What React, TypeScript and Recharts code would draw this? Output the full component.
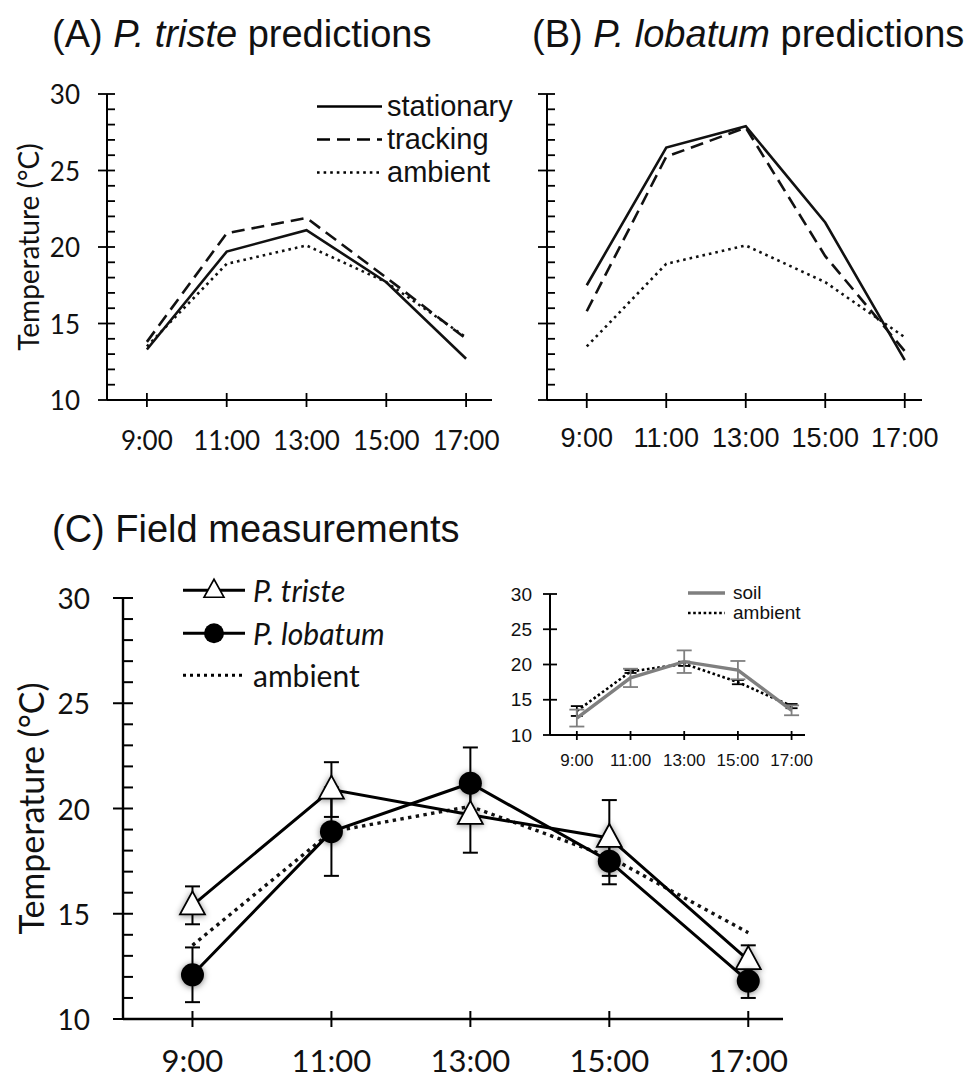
import React from "react";
import { LineChart, Line, XAxis, YAxis, ErrorBar, Legend } from "recharts";

// hours on the x axis and their labels
const times = [9, 11, 13, 15, 17];
const timeLabels = ["9:00", "11:00", "13:00", "15:00", "17:00"];
const yTicksAll = [10, 11, 12, 13, 14, 15, 16, 17, 18, 19, 20, 21, 22, 23, 24, 25, 26, 27, 28, 29, 30];
const yTicksMajor = [10, 15, 20, 25, 30];

// panel A / B model predictions (°C)
const ambient = [13.5, 18.9, 20.1, 17.7, 14.1];
const tristeStationary = [13.3, 19.7, 21.1, 17.7, 12.7];
const tristeTracking = [13.8, 20.9, 21.9, 18.0, 14.0];
const lobatumStationary = [17.5, 26.5, 27.9, 21.6, 12.6];
const lobatumTracking = [15.8, 25.9, 27.8, 19.4, 13.2];

// panel C field measurements (mean, ± error)
const fieldTriste = [15.4, 20.9, 19.7, 18.6, 12.8];
const fieldTristeErr = [0.9, 1.3, 1.8, 1.8, 0.7];
const fieldLobatum = [12.1, 18.9, 21.2, 17.5, 11.8];
const fieldLobatumErr = [1.3, 2.1, 1.7, 1.1, 0.8];

// inset: soil vs ambient
const soil = [12.4, 18.1, 20.4, 19.2, 13.5];
const soilErr = [1.2, 1.3, 1.6, 1.3, 0.7];
const insetAmbient = [13.4, 19.0, 20.1, 17.5, 14.1];
const insetAmbientErr = [0.7, 0.2, 0.3, 0.3, 0.3];

const dataA = times.map((t, i) => ({ t, stationary: tristeStationary[i], tracking: tristeTracking[i], ambient: ambient[i] }));
const dataB = times.map((t, i) => ({ t, stationary: lobatumStationary[i], tracking: lobatumTracking[i], ambient: ambient[i] }));
const dataC = times.map((t, i) => ({
  t,
  triste: fieldTriste[i],
  tristeErr: fieldTristeErr[i],
  lobatum: fieldLobatum[i],
  lobatumErr: fieldLobatumErr[i],
  ambient: ambient[i],
}));
const dataInset = times.map((t, i) => ({ t, soil: soil[i], soilErr: soilErr[i], ambient: insetAmbient[i], ambientErr: insetAmbientErr[i] }));

const ARIAL = '"Liberation Sans", Arial, sans-serif';
const LATO = 'Lato, "Open Sans", sans-serif';

type YTickOpts = { out: number; inn: number; minor: number; gap: number; size: number; font: string; labels: boolean; sw: number; minors: boolean };

const makeYTick = (o: YTickOpts) => (p: any) => {
  const v = p.payload.value;
  const major = yTicksMajor.includes(v);
  if (!major && !o.minors) return <g key={p.index} />;
  return (
    <g key={p.index}>
      <line x1={p.x - (major ? o.out : 0)} x2={p.x + (major ? o.inn : o.minor)} y1={p.y} y2={p.y} stroke="#000" strokeWidth={o.sw} />
      {major && o.labels && (
        <text x={p.x - o.gap} y={p.y} textAnchor="end" dominantBaseline="central" fontSize={o.size} fontFamily={o.font} fill="#111">
          {v}
        </text>
      )}
    </g>
  );
};

type XTickOpts = { up: number; down: number; dist: number; size: number; font: string; sw: number };

const makeXTick = (o: XTickOpts) => (p: any) => {
  const v = p.payload.value;
  return (
    <g key={p.index}>
      <line x1={p.x} x2={p.x} y1={p.y - o.up} y2={p.y + o.down} stroke="#000" strokeWidth={o.sw} />
      <text x={p.x} y={p.y + o.dist} textAnchor="middle" dominantBaseline="central" fontSize={o.size} fontFamily={o.font} fill="#111">
        {timeLabels[times.indexOf(v)]}
      </text>
    </g>
  );
};

const makeYLabel = (dist: number, size: number) => (props: any) => {
  const vb = props.viewBox;
  const cx = vb.x + vb.width - dist;
  const cy = vb.y + vb.height / 2;
  return (
    <text x={cx} y={cy} transform={`rotate(-90 ${cx} ${cy})`} textAnchor="middle" dominantBaseline="central" fontSize={size} fontFamily={LATO} fill="#111">
      Temperature (°C)
    </text>
  );
};

const Triangle = (p: any) => {
  if (p.cx == null || p.cy == null) return null;
  const { cx, cy } = p;
  return (
    <polygon
      key={`tri-${p.index}`}
      points={`${cx},${cy - 14} ${cx + 12.5},${cy + 9} ${cx - 12.5},${cy + 9}`}
      fill="#fff"
      stroke="#000"
      strokeWidth={1.8}
      style={{ filter: "drop-shadow(0px 1px 3px rgba(0,0,0,0.45))" }}
    />
  );
};

const Circle = (p: any) => {
  if (p.cx == null || p.cy == null) return null;
  return (
    <circle
      key={`circ-${p.index}`}
      cx={p.cx}
      cy={p.cy}
      r={11.5}
      fill="#000"
      style={{ filter: "drop-shadow(0px 1px 3px rgba(0,0,0,0.5))" }}
    />
  );
};

type LegendItem = { label: React.ReactNode; dash?: string; stroke?: string; sw: number; marker?: "tri" | "circ" };

const LegendRows = ({ items, rowH, sample, gap, size, font, italic }: { items: LegendItem[]; rowH: number; sample: number; gap: number; size: number; font: string; italic?: boolean[] }) => (
  <div style={{ fontFamily: font, fontSize: size, color: "#111" }}>
    {items.map((it, i) => (
      <div key={i} style={{ display: "flex", alignItems: "center", height: rowH, lineHeight: `${rowH}px`, whiteSpace: "nowrap" }}>
        <svg width={sample} height={rowH} style={{ display: "block", marginRight: gap }}>
          <line x1={0} x2={sample} y1={rowH / 2} y2={rowH / 2} stroke={it.stroke || "#000"} strokeWidth={it.sw} strokeDasharray={it.dash} />
          {it.marker === "tri" && (
            <polygon
              points={`${sample / 2},${rowH / 2 - 11} ${sample / 2 + 10},${rowH / 2 + 7} ${sample / 2 - 10},${rowH / 2 + 7}`}
              fill="#fff"
              stroke="#000"
              strokeWidth={1.6}
            />
          )}
          {it.marker === "circ" && <circle cx={sample / 2} cy={rowH / 2} r={10} fill="#000" />}
        </svg>
        <span style={{ fontStyle: italic && italic[i] ? "italic" : "normal" }}>{it.label}</span>
      </div>
    ))}
  </div>
);

const axisLine = (w: number) => ({ stroke: "#000", strokeWidth: w });

const PredictionPanel = ({ data, left, width, plotLeft, plotRight, showY, legend }: any) => (
  <div style={{ position: "absolute", left, top: 0 }}>
    <LineChart width={width} height={470} data={data} margin={{ top: 94, left: plotLeft - left - (showY ? 60 : 20), right: left + width - plotRight, bottom: 20 }}>
      <XAxis
        dataKey="t"
        type="number"
        domain={[8, 8 + ((plotRight - plotLeft) / (showY ? 39.9 : 39.75))]}
        ticks={times}
        interval={0}
        tickSize={0}
        tickMargin={0}
        tickLine={false}
        axisLine={axisLine(2)}
        height={50}
        allowDataOverflow
        tick={makeXTick(showY ? { up: 7, down: 7, dist: 40, size: 26, font: LATO, sw: 1.8 } : { up: 7, down: 8, dist: 38, size: 27, font: ARIAL, sw: 1.8 })}
      />
      <YAxis
        type="number"
        domain={[10, 30]}
        ticks={yTicksAll}
        interval={0}
        tickSize={0}
        tickMargin={0}
        tickLine={false}
        axisLine={axisLine(2)}
        width={showY ? 60 : 20}
        allowDataOverflow
        tick={makeYTick({ out: 9, inn: 8, minor: 8, gap: 27, size: 26, font: LATO, labels: showY, sw: 1.8, minors: true })}
        label={showY ? makeYLabel(79, 28) : undefined}
      />
      <Line dataKey="ambient" type="linear" stroke="#111" strokeWidth={2.6} strokeDasharray="2.6 4" dot={false} activeDot={false} isAnimationActive={false} />
      <Line dataKey="tracking" type="linear" stroke="#111" strokeWidth={2.6} strokeDasharray="13 7" dot={false} activeDot={false} isAnimationActive={false} />
      <Line dataKey="stationary" type="linear" stroke="#111" strokeWidth={2.6} dot={false} activeDot={false} isAnimationActive={false} />
      {legend && (
        <Legend
          layout="vertical"
          verticalAlign="middle"
          align="center"
          wrapperStyle={{ left: 317, top: 90 }}
          content={() => (
            <LegendRows
              rowH={33}
              sample={65}
              gap={5}
              size={29}
              font={ARIAL}
              items={[
                { label: "stationary", sw: 2.6 },
                { label: "tracking", sw: 2.6, dash: "13 7" },
                { label: "ambient", sw: 2.6, dash: "2.6 4" },
              ]}
            />
          )}
        />
      )}
    </LineChart>
  </div>
);

export default function App() {
  return (
    <div style={{ position: "absolute", left: 0, top: 0, width: 978, height: 1078, background: "#fff", fontFamily: ARIAL, overflow: "hidden" }}>
      <div style={{ position: "absolute", left: 52, top: 15, fontSize: 38, lineHeight: "38px", whiteSpace: "nowrap", color: "#111" }}>
        (A) <i>P. triste</i> predictions
      </div>
      <div style={{ position: "absolute", left: 532, top: 15, fontSize: 38, lineHeight: "38px", whiteSpace: "nowrap", color: "#111" }}>
        (B) <i>P. lobatum</i> predictions
      </div>
      <div style={{ position: "absolute", left: 52, top: 510, fontSize: 38, lineHeight: "38px", whiteSpace: "nowrap", color: "#111" }}>
        (C) Field measurements
      </div>

      <PredictionPanel data={dataA} left={0} width={520} plotLeft={107} plotRight={492} showY legend />
      <PredictionPanel data={dataB} left={500} width={478} plotLeft={547} plotRight={922} showY={false} legend={false} />

      {/* panel C */}
      <div style={{ position: "absolute", left: 0, top: 560 }}>
        <LineChart width={978} height={518} data={dataC} margin={{ top: 38, left: 43, right: 195, bottom: 9 }}>
          <XAxis
            dataKey="t"
            type="number"
            domain={[8, 17.5]}
            ticks={times}
            interval={0}
            tickSize={0}
            tickMargin={0}
            tickLine={false}
            axisLine={axisLine(2.4)}
            height={50}
            allowDataOverflow
            tick={makeXTick({ up: 8, down: 8, dist: 41, size: 31, font: LATO, sw: 2 })}
          />
          <YAxis
            type="number"
            domain={[10, 30]}
            ticks={yTicksAll}
            interval={0}
            tickSize={0}
            tickMargin={0}
            tickLine={false}
            axisLine={axisLine(2.4)}
            width={80}
            allowDataOverflow
            tick={makeYTick({ out: 10, inn: 10, minor: 10, gap: 33, size: 28, font: LATO, labels: true, sw: 2, minors: true })}
            label={makeYLabel(93, 34)}
          />
          <Line dataKey="ambient" type="linear" stroke="#111" strokeWidth={3.4} strokeDasharray="3.4 4.4" dot={false} activeDot={false} isAnimationActive={false} />
          <Line dataKey="triste" type="linear" stroke="#000" strokeWidth={3} dot={(p: any) => <Triangle key={`t${p.index}`} {...p} />} activeDot={false} isAnimationActive={false}>
            <ErrorBar dataKey="tristeErr" direction="y" width={7.5} stroke="#000" strokeWidth={2} />
          </Line>
          <Line dataKey="lobatum" type="linear" stroke="#000" strokeWidth={3} dot={(p: any) => <Circle key={`c${p.index}`} {...p} />} activeDot={false} isAnimationActive={false}>
            <ErrorBar dataKey="lobatumErr" direction="y" width={7.5} stroke="#000" strokeWidth={2} />
          </Line>
          <Legend
            layout="vertical"
            verticalAlign="middle"
            align="center"
            wrapperStyle={{ left: 183, top: 9 }}
            content={() => (
              <LegendRows
                rowH={42.5}
                sample={62}
                gap={8}
                size={30}
                font={LATO}
                italic={[true, true, false]}
                items={[
                  { label: "P. triste", sw: 3, marker: "tri" },
                  { label: "P. lobatum", sw: 3, marker: "circ" },
                  { label: "ambient", sw: 3, dash: "3 4" },
                ]}
              />
            )}
          />
        </LineChart>
      </div>

      {/* inset: soil vs ambient */}
      <div style={{ position: "absolute", left: 480, top: 570 }}>
        <LineChart width={340} height={210} data={dataInset} margin={{ top: 24, left: 30, right: 15, bottom: 10 }}>
          <XAxis
            dataKey="t"
            type="number"
            domain={[8, 17.5]}
            ticks={times}
            interval={0}
            tickSize={0}
            tickMargin={0}
            tickLine={false}
            axisLine={axisLine(2)}
            height={35}
            allowDataOverflow
            tick={makeXTick({ up: 4, down: 5, dist: 25, size: 17, font: ARIAL, sw: 1.8 })}
          />
          <YAxis
            type="number"
            domain={[10, 30]}
            ticks={yTicksMajor}
            interval={0}
            tickSize={0}
            tickMargin={0}
            tickLine={false}
            axisLine={axisLine(2)}
            width={40}
            allowDataOverflow
            tick={makeYTick({ out: 7, inn: 7, minor: 0, gap: 18, size: 19, font: ARIAL, labels: true, sw: 1.8, minors: false })}
          />
          <Line dataKey="ambient" type="linear" stroke="#000" strokeWidth={2.6} strokeDasharray="2.6 2.6" dot={false} activeDot={false} isAnimationActive={false}>
            <ErrorBar dataKey="ambientErr" direction="y" width={6} stroke="#000" strokeWidth={1.8} />
          </Line>
          <Line dataKey="soil" type="linear" stroke="#7f7f7f" strokeWidth={3.4} dot={false} activeDot={false} isAnimationActive={false}>
            <ErrorBar dataKey="soilErr" direction="y" width={7.5} stroke="#7f7f7f" strokeWidth={1.8} />
          </Line>
          <Legend
            layout="vertical"
            verticalAlign="middle"
            align="center"
            wrapperStyle={{ left: 208, top: 13 }}
            content={() => (
              <LegendRows
                rowH={20}
                sample={37}
                gap={8}
                size={19}
                font={ARIAL}
                items={[
                  { label: "soil", sw: 3.4, stroke: "#7f7f7f" },
                  { label: "ambient", sw: 2.6, dash: "2.6 2.6" },
                ]}
              />
            )}
          />
        </LineChart>
      </div>
    </div>
  );
}
